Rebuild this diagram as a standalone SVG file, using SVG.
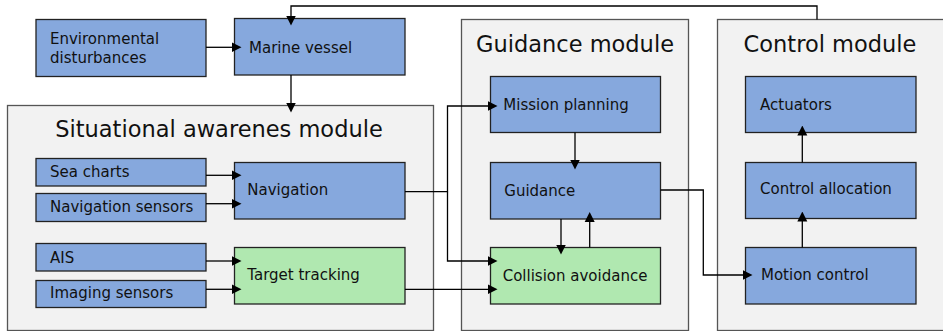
<svg xmlns="http://www.w3.org/2000/svg" width="943" height="331" viewBox="0 0 943 331">
<style>
.mod{fill:#f2f2f2;stroke:#555;stroke-width:1.3}
.blue{fill:#86a8dd;stroke:#222;stroke-width:1.3}
.green{fill:#b0e8b0;stroke:#222;stroke-width:1.3}
text{font-family:"DejaVu Sans",sans-serif;fill:#111}
.lbl{font-size:15px}
.ttl{font-size:22.5px;text-anchor:middle}
.con{fill:none;stroke:#000;stroke-width:1.3}
</style>
<defs>
<marker id="ah" viewBox="0 0 10 10" markerWidth="10" markerHeight="11" refX="3" refY="5" orient="auto" markerUnits="userSpaceOnUse">
<path d="M0,0 L10,5 L0,10 z" fill="#000"/>
</marker>
</defs>
<g id="situational-module"><rect class="mod" x="7.5" y="105.5" width="426" height="225"/><text class="ttl" x="219" y="136.7">Situational awarenes module</text></g>
<g id="guidance-module"><rect class="mod" x="461.5" y="19.5" width="227" height="311"/><text class="ttl" x="575" y="51.7">Guidance module</text></g>
<g id="control-module"><rect class="mod" x="717.5" y="19.5" width="240" height="311"/><text class="ttl" x="830" y="51.7">Control module</text></g>
<g id="env"><rect class="blue" x="36" y="19.5" width="170" height="57"/><text class="lbl" x="50" y="44.3">Environmental</text><text class="lbl" x="50" y="63.3">disturbances</text></g>
<g id="vessel"><rect class="blue" x="234.5" y="18.5" width="170.5" height="56.5"/><text class="lbl" x="249" y="52.5">Marine vessel</text></g>
<g id="seacharts"><rect class="blue" x="36" y="158.5" width="170" height="27.5"/><text class="lbl" x="50" y="177.3">Sea charts</text></g>
<g id="navsensors"><rect class="blue" x="36" y="193.5" width="170" height="28"/><text class="lbl" x="50" y="212">Navigation sensors</text></g>
<g id="ais"><rect class="blue" x="36" y="243.5" width="170" height="27.5"/><text class="lbl" x="50" y="262.7">AIS</text></g>
<g id="imaging"><rect class="blue" x="36" y="280.5" width="170" height="27"/><text class="lbl" x="50" y="297.7">Imaging sensors</text></g>
<g id="navigation"><rect class="blue" x="234.5" y="162.5" width="170.5" height="56.5"/><text class="lbl" x="247.3" y="195">Navigation</text></g>
<g id="tracking"><rect class="green" x="234.5" y="247.5" width="170.5" height="56.5"/><text class="lbl" x="247.3" y="280">Target tracking</text></g>
<g id="mission"><rect class="blue" x="490.5" y="76.5" width="170" height="56"/><text class="lbl" x="503.3" y="110">Mission planning</text></g>
<g id="guidance"><rect class="blue" x="490.5" y="162.5" width="170" height="56.5"/><text class="lbl" x="504.3" y="195.7">Guidance</text></g>
<g id="collision"><rect class="green" x="490.5" y="247.5" width="170" height="56.5"/><text class="lbl" x="502.7" y="280.7">Collision avoidance</text></g>
<g id="actuators"><rect class="blue" x="745.5" y="76.5" width="170.5" height="56"/><text class="lbl" x="760" y="110">Actuators</text></g>
<g id="allocation"><rect class="blue" x="745.5" y="162.5" width="170.5" height="56"/><text class="lbl" x="760" y="194">Control allocation</text></g>
<g id="motion"><rect class="blue" x="745.5" y="247.5" width="170.5" height="56.5"/><text class="lbl" x="761" y="280">Motion control</text></g>
<g id="connectors">
<path class="con" d="M206,47.3 H234.5" marker-end="url(#ah)"/>
<path class="con" d="M817,19.5 V6 H291 V18.5" marker-end="url(#ah)"/>
<path class="con" d="M291,75 V105.5" marker-end="url(#ah)"/>
<path class="con" d="M206,175.3 H234.5" marker-end="url(#ah)"/>
<path class="con" d="M206,203.7 H234.5" marker-end="url(#ah)"/>
<path class="con" d="M206,261 H234.5" marker-end="url(#ah)"/>
<path class="con" d="M206,289.3 H234.5" marker-end="url(#ah)"/>
<path class="con" d="M405,191.7 H447.5 V106 H490.5" marker-end="url(#ah)"/>
<path class="con" d="M447.5,191.7 V261 H490.5" marker-end="url(#ah)"/>
<path class="con" d="M405,289.3 H490.5" marker-end="url(#ah)"/>
<path class="con" d="M575,132.5 V162.5" marker-end="url(#ah)"/>
<path class="con" d="M561,219 V247.5" marker-end="url(#ah)"/>
<path class="con" d="M589.7,247.5 V219" marker-end="url(#ah)"/>
<path class="con" d="M660.5,190 H703.3 V275 H745.5" marker-end="url(#ah)"/>
<path class="con" d="M802.3,247.5 V218.5" marker-end="url(#ah)"/>
<path class="con" d="M802.3,162.5 V132.5" marker-end="url(#ah)"/>
</g>
</svg>
